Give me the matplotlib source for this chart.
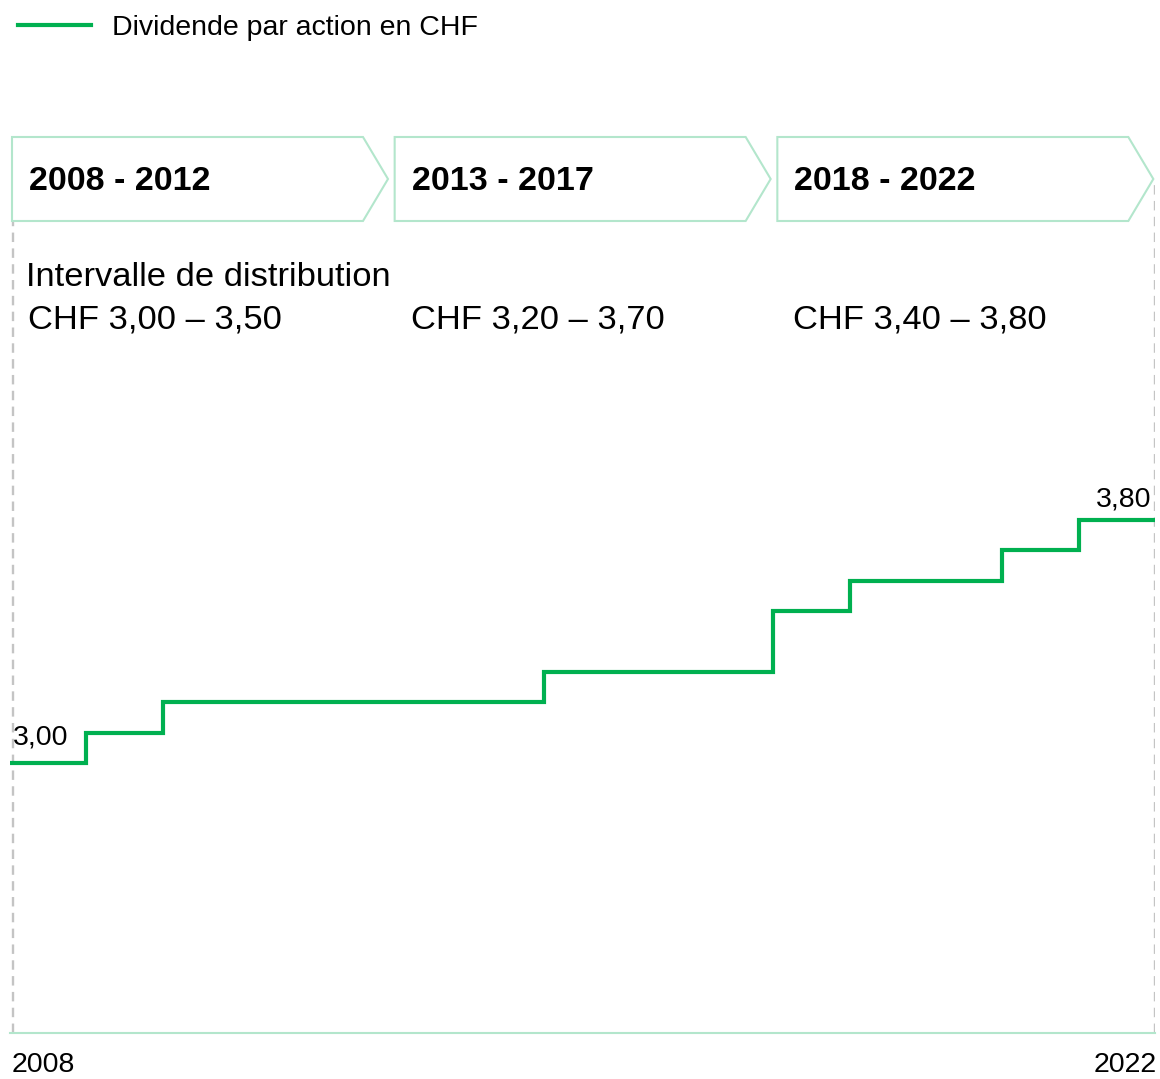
import numpy as np
import matplotlib
matplotlib.use('Agg')
import matplotlib.pyplot as plt
from matplotlib.patches import Polygon
from matplotlib.lines import Line2D
import matplotlib.transforms as mtransforms

plt.rcParams['font.family'] = ['Liberation Sans', 'DejaVu Sans']

# data
years = list(range(2008, 2023))
dividend = [3.00, 3.10, 3.20, 3.20, 3.20, 3.20, 3.20, 3.30, 3.30, 3.30, 3.50, 3.60, 3.60, 3.70, 3.80]
periods = ['2008 - 2012', '2013 - 2017', '2018 - 2022']
ranges = ['CHF 3,00 – 3,50', 'CHF 3,20 – 3,70', 'CHF 3,40 – 3,80']
years_per_period = 5

GREEN = '#00b050'
MINT = '#b3e6cc'
GREY = '#c4c4c4'

W, H = 1160, 1079
fig = plt.figure(figsize=(W / 100, H / 100), dpi=100)
ax = fig.add_axes([10 / W, 46 / H, 1145 / W, 1033 / H])

edges = np.arange(len(years) + 1)
ax.stairs(dividend, edges, baseline=None, color=GREEN, linewidth=3, zorder=3)

ax.set_xlim(0, len(years))
# 3.00 sits at px 763, 0.1 CHF ~ 30.4 px
ax.set_ylim(3.0 - 270 / 303.75, 3.0 + 763 / 303.75)
ax.set_xticks([])
ax.set_yticks([])
for s in ['top', 'left', 'right']:
    ax.spines[s].set_visible(False)
ax.spines['bottom'].set_color(MINT)
ax.spines['bottom'].set_linewidth(1.5)

px = 1145 / len(years)

# dashed boundaries
top_frac = (1033 - 180) / 1033
ax.axvline(3 / px, ymin=0, ymax=top_frac, color=GREY, ls=(0, (4, 2.7)), lw=1.7, zorder=1)
ax.axvline(len(years), ymin=0, ymax=top_frac, color=GREY, ls=(0, (4, 2.7)), lw=1.7, zorder=1)

# period chevrons
trans = mtransforms.blended_transform_factory(ax.transData, ax.transAxes)
y_top = (1033 - 137) / 1033
y_bot = (1033 - 221) / 1033
y_mid = (1033 - 179) / 1033
for i, (lab, rng) in enumerate(zip(periods, ranges)):
    x0 = i * years_per_period + (2 + i) / px
    body = x0 + 351 / px
    tip = x0 + 376 / px
    poly = Polygon([(x0, y_top), (body, y_top), (tip, y_mid), (body, y_bot), (x0, y_bot)],
                   closed=True, facecolor='white', edgecolor=MINT, lw=1.5,
                   transform=trans, zorder=2, clip_on=False)
    ax.add_patch(poly)
    ax.text(x0 + 17 / px, (1033 - 182) / 1033, lab, transform=trans, fontsize=24.5,
            fontweight='bold', va='center', ha='left', zorder=4)
    ax.text(x0 + 16 / px, (1033 - 320) / 1033, rng, transform=trans, fontsize=24.8,
            va='center', ha='left')

ax.text(16 / px, (1033 - 278) / 1033, 'Intervalle de distribution', transform=trans,
        fontsize=24.8, va='center', ha='left')

# value labels
ax.text(3 / px, dividend[0] + 0.04, '3,00', fontsize=20.5, ha='left', va='bottom')
ax.text(len(years) - 4 / px, dividend[-1] + 0.025, '3,80', fontsize=20.5, ha='right', va='bottom')

# year labels
fig.text(12 / W, 1 - 1065 / H, str(years[0]), fontsize=20.5, ha='left', va='center')
fig.text(1157 / W, 1 - 1065 / H, str(years[-1]), fontsize=20.5, ha='right', va='center')

# legend
handle = Line2D([], [], color=GREEN, lw=3)
fig.legend([handle], ['Dividende par action en CHF'], loc='center left',
           bbox_to_anchor=(18 / W, 1 - 28 / H), frameon=False, fontsize=20.5,
           handlelength=2.56, handletextpad=0.74, borderpad=0, borderaxespad=0)

fig.savefig('out.png', dpi=100)
